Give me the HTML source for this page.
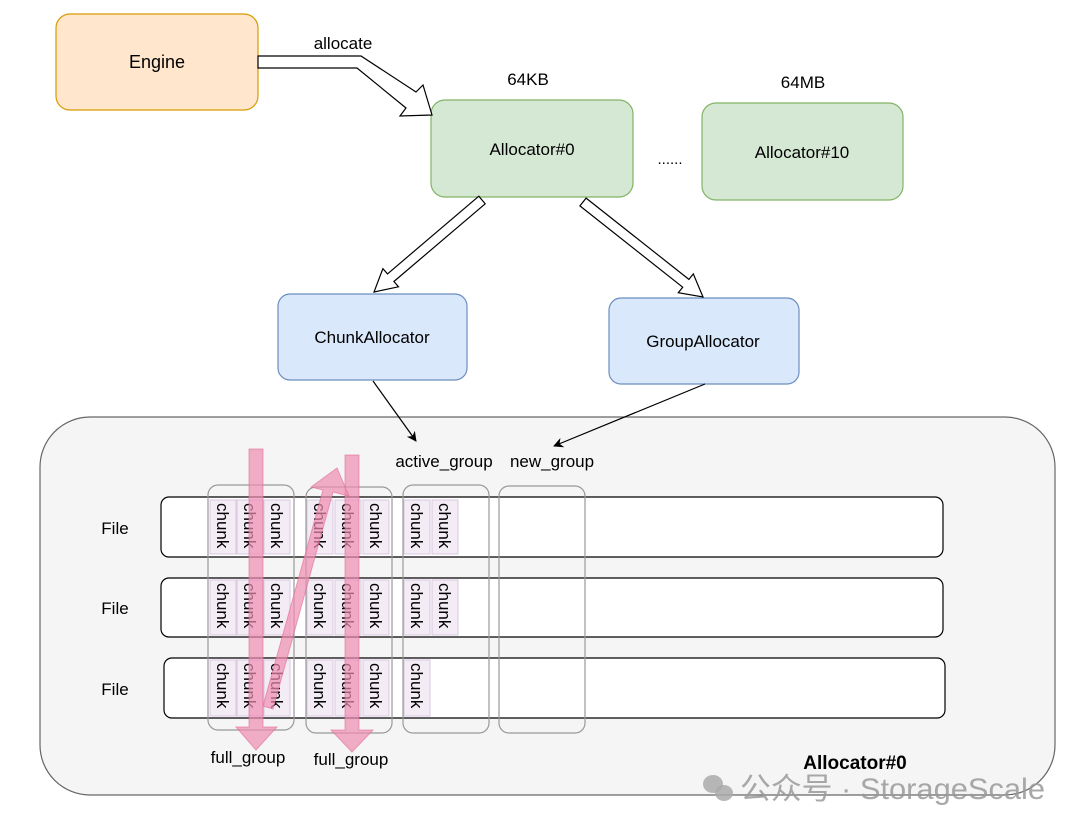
<!DOCTYPE html>
<html><head><meta charset="utf-8"><style>
html,body{margin:0;padding:0;background:#fff;}
svg{display:block;font-family:"Liberation Sans","Noto Sans CJK SC",sans-serif;}
</style></head><body>
<svg width="1080" height="830" viewBox="0 0 1080 830" xmlns="http://www.w3.org/2000/svg">
<defs>
<marker id="ah" markerWidth="10" markerHeight="10" refX="9" refY="5" orient="auto" markerUnits="userSpaceOnUse">
<path d="M0,0 L10,5 L0,10 L3,5 Z" fill="#000"/></marker>
</defs>
<rect x="40" y="417" width="1015" height="378" rx="50" fill="#f5f5f5" stroke="#666" stroke-width="1.2"/>

<rect x="56" y="14" width="202" height="96" rx="14" fill="#ffe6cc" stroke="#d79b00" stroke-width="1.2"/>
<text x="157" y="68" font-size="18" text-anchor="middle">Engine</text>
<rect x="431" y="100" width="202" height="97" rx="14" fill="#d5e8d4" stroke="#82b366" stroke-width="1.2"/>
<text x="532" y="155" font-size="17" text-anchor="middle">Allocator#0</text>
<rect x="702" y="103" width="201" height="97" rx="14" fill="#d5e8d4" stroke="#82b366" stroke-width="1.2"/>
<text x="802" y="158" font-size="17" text-anchor="middle">Allocator#10</text>
<rect x="278" y="294" width="189" height="86" rx="12" fill="#dae8fc" stroke="#6c8ebf" stroke-width="1.2"/>
<text x="372" y="343" font-size="17" text-anchor="middle">ChunkAllocator</text>
<rect x="609" y="298" width="190" height="86" rx="12" fill="#dae8fc" stroke="#6c8ebf" stroke-width="1.2"/>
<text x="703" y="347" font-size="17" text-anchor="middle">GroupAllocator</text>

<text x="343" y="49" font-size="17" text-anchor="middle">allocate</text>
<text x="528" y="85" font-size="17" text-anchor="middle">64KB</text>
<text x="803" y="88" font-size="17" text-anchor="middle">64MB</text>
<text x="670" y="164" font-size="15" text-anchor="middle">......</text>

<polygon points="258,56 361,56 416,92 423,85 432,115 400,116 406,108 357,68 258,68" fill="#fff" stroke="#000" stroke-width="1.2"/>
<polygon points="485.2,203.8 393.9,281.5 398.5,286.8 374,292 382.9,268.6 387.5,273.9 478.8,196.2" fill="#fff" stroke="#000" stroke-width="1.2"/>
<polygon points="579.9,205.9 682.7,287.2 678.3,292.7 703,297 693.3,273.9 688.9,279.4 586.1,198.1" fill="#fff" stroke="#000" stroke-width="1.2"/>

<line x1="373" y1="381" x2="416" y2="441" stroke="#000" stroke-width="1.2" marker-end="url(#ah)"/>
<line x1="705" y1="384" x2="554" y2="446" stroke="#000" stroke-width="1.2" marker-end="url(#ah)"/>
<text x="444" y="467" font-size="17" text-anchor="middle">active_group</text>
<text x="552" y="467" font-size="17" text-anchor="middle">new_group</text>

<rect x="161" y="497" width="782" height="60" rx="8" fill="#fff" stroke="#000" stroke-width="1.2"/>
<rect x="161" y="578" width="782" height="59" rx="8" fill="#fff" stroke="#000" stroke-width="1.2"/>
<rect x="164" y="658" width="781" height="60" rx="8" fill="#fff" stroke="#000" stroke-width="1.2"/>
<text x="115" y="534" font-size="17" text-anchor="middle">File</text>
<text x="115" y="614" font-size="17" text-anchor="middle">File</text>
<text x="115" y="695" font-size="17" text-anchor="middle">File</text>

<g fill="#f3ecf5" stroke="#d9c8e0" stroke-width="1">
<rect x="210" y="500" width="26" height="54"/><rect x="237" y="500" width="26" height="54"/><rect x="264" y="500" width="26" height="54"/>
<rect x="307" y="500" width="26" height="54"/><rect x="335" y="500" width="26" height="54"/><rect x="363" y="500" width="26" height="54"/>
<rect x="404" y="500" width="26" height="54"/><rect x="432" y="500" width="26" height="54"/>
<rect x="210" y="580" width="26" height="55"/><rect x="237" y="580" width="26" height="55"/><rect x="264" y="580" width="26" height="55"/>
<rect x="307" y="580" width="26" height="55"/><rect x="335" y="580" width="26" height="55"/><rect x="363" y="580" width="26" height="55"/>
<rect x="404" y="580" width="26" height="55"/><rect x="432" y="580" width="26" height="55"/>
<rect x="210" y="660" width="26" height="56"/><rect x="237" y="660" width="26" height="56"/><rect x="264" y="660" width="26" height="56"/>
<rect x="307" y="660" width="26" height="56"/><rect x="335" y="660" width="26" height="56"/><rect x="363" y="660" width="26" height="56"/>
<rect x="404" y="660" width="26" height="56"/>
</g>
<g font-size="17">
<text transform="translate(217,503) rotate(90)">chunk</text><text transform="translate(244,503) rotate(90)">chunk</text><text transform="translate(271,503) rotate(90)">chunk</text>
<text transform="translate(314,503) rotate(90)">chunk</text><text transform="translate(342,503) rotate(90)">chunk</text><text transform="translate(370,503) rotate(90)">chunk</text>
<text transform="translate(411,503) rotate(90)">chunk</text><text transform="translate(439,503) rotate(90)">chunk</text>
<text transform="translate(217,583) rotate(90)">chunk</text><text transform="translate(244,583) rotate(90)">chunk</text><text transform="translate(271,583) rotate(90)">chunk</text>
<text transform="translate(314,583) rotate(90)">chunk</text><text transform="translate(342,583) rotate(90)">chunk</text><text transform="translate(370,583) rotate(90)">chunk</text>
<text transform="translate(411,583) rotate(90)">chunk</text><text transform="translate(439,583) rotate(90)">chunk</text>
<text transform="translate(217,663) rotate(90)">chunk</text><text transform="translate(244,663) rotate(90)">chunk</text><text transform="translate(271,663) rotate(90)">chunk</text>
<text transform="translate(314,663) rotate(90)">chunk</text><text transform="translate(342,663) rotate(90)">chunk</text><text transform="translate(370,663) rotate(90)">chunk</text>
<text transform="translate(411,663) rotate(90)">chunk</text>
</g>

<g fill="none" stroke="#999" stroke-width="1.2">
<rect x="208" y="485" width="86" height="245" rx="10"/>
<rect x="306" y="487" width="86" height="246" rx="10"/>
<rect x="403" y="485" width="86" height="248" rx="10"/>
<rect x="499" y="486" width="86" height="247" rx="10"/>
</g>

<g fill="#f08db0" fill-opacity="0.7" stroke="#e06a95" stroke-opacity="0.6" stroke-width="1">
<polygon points="249,449 263,449 263,727 277,727 256,750 236,727 249,727"/>
<polygon points="345,455 359,455 359,730 373,730 352,752 331,730 345,730"/>
<polygon points="273,709 333,492 349,496 337,468 311,487 323,490 263,706"/>
</g>

<text x="248" y="763" font-size="17" text-anchor="middle">full_group</text>
<text x="351" y="765" font-size="17" text-anchor="middle">full_group</text>
<text x="855" y="769" font-size="19" font-weight="bold" text-anchor="middle">Allocator#0</text>

<g fill="#aaa" fill-opacity="0.85">
<ellipse cx="713" cy="784" rx="10" ry="9"/><ellipse cx="724" cy="793" rx="9" ry="8"/>
</g>
<text x="740" y="799" font-size="30" fill="#999" fill-opacity="0.85" textLength="305" lengthAdjust="spacingAndGlyphs">公众号 · StorageScale</text>
</svg>
</body></html>
